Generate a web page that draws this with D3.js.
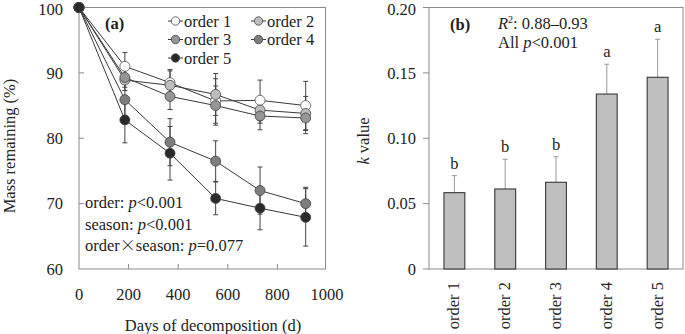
<!DOCTYPE html>
<html>
<head>
<meta charset="utf-8">
<script src="https://cdn.jsdelivr.net/npm/d3@7"></script>
<style>
  body { margin: 0; background: #fff; }
  text { font-family: "Liberation Serif", "Times New Roman", serif; fill: #222; }
</style>
</head>
<body>
<script>
// Panel (a): mass remaining over time
const days = [0, 185, 367, 551, 730, 914];
const seriesNames = ["order 1", "order 2", "order 3", "order 4", "order 5"];
const order1 = [100, 91.0, 88.5, 85.7, 85.8, 85.0];
const order2 = [100, 88.9, 88.1, 86.7, 84.3, 83.8];
const order3 = [100, 89.3, 86.4, 85.0, 83.4, 83.1];
const order4 = [100, 85.9, 79.4, 76.5, 72.0, 70.0];
const order5 = [100, 82.8, 77.7, 70.8, 69.3, 67.9];
const err1 = [0, 2.1, 2.0, 3.4, 3.1, 3.7];
const err2 = [0, 1.6, 2.2, 3.2, 2.0, 2.6];
const err3 = [0, 1.5, 2.0, 3.0, 2.1, 2.4];
const err4 = [0, 2.5, 3.6, 3.1, 3.6, 2.5];
const err5 = [0, 3.5, 4.1, 2.5, 3.3, 4.4];
const xTicksA = [0, 200, 400, 600, 800, 1000];
const yTicksA = [60, 70, 80, 90, 100];
const statsText = ["order: p<0.001", "season: p<0.001", "order×season: p=0.077"];

// Panel (b): k values
const kValues = [0.0584, 0.0612, 0.0663, 0.1338, 0.1466];
const kErr = [0.0130, 0.0227, 0.0196, 0.0228, 0.0291];
const kLetters = ["b", "b", "b", "a", "a"];
const yTicksB = [0, 0.05, 0.10, 0.15, 0.20];

const seriesVals = [order1, order2, order3, order4, order5];
const seriesErr = [err1, err2, err3, err4, err5];
const fills = ["#ffffff", "#bdbdbd", "#959595", "#7d7d7d", "#2a2a2a"];

const width = 685, height = 334;
const svg = d3.select("body").append("svg")
  .attr("width", width)
  .attr("height", height);

const boxColor = "#8a8a8a";
const fs = 16.5;

// ---------- Panel (a) ----------
const xA = d3.scaleLinear().domain([0, 1000]).range([79, 327]);
const yA = d3.scaleLinear().domain([60, 100]).range([269, 7.5]);

const gA = svg.append("g");

// box
gA.append("rect")
  .attr("x", 79).attr("y", yA(100))
  .attr("width", 325.5 - 79).attr("height", yA(60) - yA(100))
  .attr("fill", "none").attr("stroke", boxColor).attr("stroke-width", 1);

// inward ticks
gA.selectAll(".xt").data(xTicksA.slice(1, -1)).join("line")
  .attr("x1", d => xA(d)).attr("x2", d => xA(d))
  .attr("y1", yA(60)).attr("y2", yA(60) - 5)
  .attr("stroke", boxColor);
gA.selectAll(".yt").data(yTicksA.slice(1, -1)).join("line")
  .attr("x1", 79).attr("x2", 84)
  .attr("y1", d => yA(d)).attr("y2", d => yA(d))
  .attr("stroke", boxColor);

gA.selectAll(".xl").data(xTicksA).join("text")
  .attr("x", d => xA(d)).attr("y", 300)
  .attr("text-anchor", "middle").attr("font-size", fs)
  .text(d => d);
gA.selectAll(".yl").data(yTicksA).join("text")
  .attr("x", 63).attr("y", d => Math.max(yA(d), 9.5))
  .attr("dy", "0.35em")
  .attr("text-anchor", "end").attr("font-size", fs)
  .text(d => d);

gA.append("text")
  .attr("x", 213).attr("y", 331)
  .attr("text-anchor", "middle").attr("font-size", fs)
  .text("Days of decomposition (d)");
gA.append("text")
  .attr("transform", "translate(15,146) rotate(-90)")
  .attr("text-anchor", "middle").attr("font-size", fs)
  .text("Mass remaining (%)");

// series
const line = d3.line().x((d, i) => xA(days[i])).y(d => yA(d));
seriesVals.forEach((vals, s) => {
  const g = gA.append("g");
  g.append("path").datum(vals)
    .attr("d", line).attr("fill", "none")
    .attr("stroke", "#3a3a3a").attr("stroke-width", 1);
  const eb = vals.map((v, i) => ({ x: days[i], v, e: seriesErr[s][i] })).filter(d => d.e > 0);
  g.selectAll(".eb").data(eb).join("line")
    .attr("x1", d => xA(d.x)).attr("x2", d => xA(d.x))
    .attr("y1", d => yA(d.v - d.e)).attr("y2", d => yA(d.v + d.e))
    .attr("stroke", "#444").attr("stroke-width", 1);
  g.selectAll(".cap").data(eb.flatMap(d => [d.v - d.e, d.v + d.e].map(y => ({ x: d.x, y })))).join("line")
    .attr("x1", d => xA(d.x) - 2.5).attr("x2", d => xA(d.x) + 2.5)
    .attr("y1", d => yA(d.y)).attr("y2", d => yA(d.y))
    .attr("stroke", "#444").attr("stroke-width", 1);
});
seriesVals.forEach((vals, s) => {
  gA.append("g").selectAll("circle").data(vals).join("circle")
    .attr("cx", (d, i) => xA(days[i])).attr("cy", d => yA(d))
    .attr("r", 5)
    .attr("fill", fills[s]).attr("stroke", s === 0 ? "#555" : "#444").attr("stroke-width", 0.8);
});

gA.append("text")
  .attr("x", 105).attr("y", 29)
  .attr("font-size", fs).attr("font-weight", "bold")
  .text("(a)");

// legend
const legPos = [[168, 21], [251, 21], [168, 39.5], [251, 39.5], [168, 58]];
seriesNames.forEach((name, s) => {
  const [lx, ly] = legPos[s];
  const g = gA.append("g").attr("transform", `translate(${lx},${ly})`);
  g.append("line").attr("x1", 0).attr("x2", 15).attr("y1", 0).attr("y2", 0)
    .attr("stroke", "#3a3a3a");
  g.append("circle").attr("cx", 7.5).attr("cy", 0).attr("r", 4.2)
    .attr("fill", fills[s]).attr("stroke", "#444").attr("stroke-width", 0.8);
  g.append("text").attr("x", 16).attr("y", 5.5).attr("font-size", fs).text(name);
});

// stats text
statsText.forEach((t, i) => {
  const txt = gA.append("text").attr("x", 85).attr("y", 208 + i * 21.5).attr("font-size", fs);
  const m = t.match(/^(.*?)(p)([<=].*)$/);
  if (m[1].includes("×")) {
    txt.append("tspan").text("order");
    txt.append("tspan").attr("font-family", "Noto Sans CJK SC").attr("font-weight", 300).attr("font-size", 16).text("×");
    txt.append("tspan").text("season: ");
  } else {
    txt.append("tspan").text(m[1]);
  }
  txt.append("tspan").attr("font-style", "italic").text(m[2]);
  txt.append("tspan").text(m[3]);
});

// ---------- Panel (b) ----------
const xB = d3.scaleBand().domain(seriesNames).range([429, 683]).paddingInner(0.59).paddingOuter(0.295);
const yB = d3.scaleLinear().domain([0, 0.20]).range([269, 7.5]);
const gB = svg.append("g");

gB.append("rect")
  .attr("x", 429).attr("y", yB(0.20))
  .attr("width", 683 - 429).attr("height", yB(0) - yB(0.20))
  .attr("fill", "none").attr("stroke", boxColor);

gB.selectAll(".yt").data(yTicksB).join("line")
  .attr("x1", 423).attr("x2", 429)
  .attr("y1", d => yB(d)).attr("y2", d => yB(d))
  .attr("stroke", boxColor);
gB.selectAll(".yl").data(yTicksB).join("text")
  .attr("x", 416).attr("y", d => Math.max(yB(d), 9.5)).attr("dy", "0.35em")
  .attr("text-anchor", "end").attr("font-size", fs)
  .text(d => d === 0 ? "0" : d3.format(".2f")(d));

gB.append("text")
  .attr("transform", "translate(369,141) rotate(-90)")
  .attr("text-anchor", "middle").attr("font-size", fs)
  .call(t => {
    t.append("tspan").attr("font-style", "italic").text("k");
    t.append("tspan").text(" value");
  });

// error bars (upper only)
gB.selectAll(".eb").data(kValues).join("line")
  .attr("x1", (d, i) => xB(seriesNames[i]) + xB.bandwidth() / 2)
  .attr("x2", (d, i) => xB(seriesNames[i]) + xB.bandwidth() / 2)
  .attr("y1", d => yB(d)).attr("y2", (d, i) => yB(d + kErr[i]))
  .attr("stroke", "#999");
gB.selectAll(".cap").data(kValues).join("line")
  .attr("x1", (d, i) => xB(seriesNames[i]) + xB.bandwidth() / 2 - 2.5)
  .attr("x2", (d, i) => xB(seriesNames[i]) + xB.bandwidth() / 2 + 2.5)
  .attr("y1", (d, i) => yB(d + kErr[i])).attr("y2", (d, i) => yB(d + kErr[i]))
  .attr("stroke", "#999");

gB.selectAll(".bar").data(kValues).join("rect")
  .attr("x", (d, i) => xB(seriesNames[i]))
  .attr("y", d => yB(d))
  .attr("width", xB.bandwidth())
  .attr("height", d => yB(0) - yB(d))
  .attr("fill", "#bfbfbf").attr("stroke", "#444").attr("stroke-width", 1.2);

gB.selectAll(".let").data(kValues).join("text")
  .attr("x", (d, i) => xB(seriesNames[i]) + xB.bandwidth() / 2)
  .attr("y", (d, i) => yB(d + kErr[i]) - 7)
  .attr("text-anchor", "middle").attr("font-size", fs)
  .text((d, i) => kLetters[i]);

gB.selectAll(".cat").data(seriesNames).join("text")
  .attr("transform", d => `translate(${xB(d) + xB.bandwidth() / 2 + 5},282) rotate(-90)`)
  .attr("text-anchor", "end").attr("font-size", fs)
  .text(d => d);

gB.append("text")
  .attr("x", 450).attr("y", 30)
  .attr("font-size", fs).attr("font-weight", "bold")
  .text("(b)");
gB.append("text")
  .attr("x", 498).attr("y", 29).attr("font-size", fs)
  .call(t => {
    t.append("tspan").attr("font-style", "italic").text("R");
    t.append("tspan").attr("font-size", 10).attr("dy", -6).text("2");
    t.append("tspan").attr("dy", 6).text(": 0.88–0.93");
  });
gB.append("text")
  .attr("x", 498).attr("y", 48).attr("font-size", fs)
  .call(t => {
    t.append("tspan").text("All ");
    t.append("tspan").attr("font-style", "italic").text("p");
    t.append("tspan").text("<0.001");
  });
</script>
</body>
</html>
